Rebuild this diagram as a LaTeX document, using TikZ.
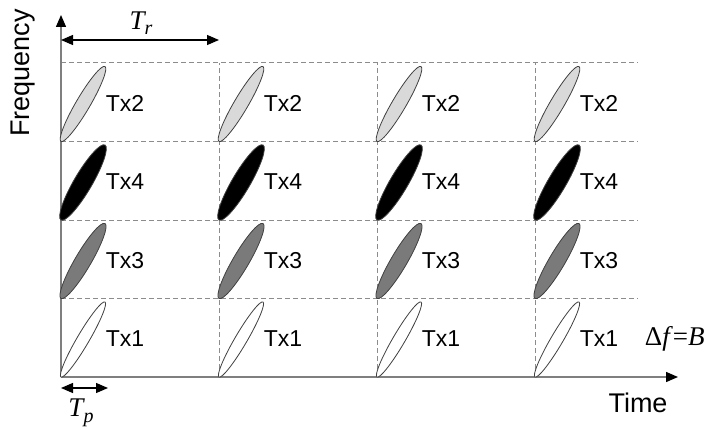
\documentclass[tikz,border=0pt]{standalone}
\usepackage{fontspec}
\setmainfont{Liberation Sans}
\newfontfamily\tmsfont{Liberation Serif}
\usepackage{tikz}
\usetikzlibrary{arrows.meta}
\definecolor{gridgray}{HTML}{8C8C8C}
\definecolor{axisgray}{HTML}{7F7F7F}
\definecolor{pulselight}{HTML}{D9D9D9}
\definecolor{pulsedark}{HTML}{7A7A7A}
\definecolor{pulseedge}{HTML}{404040}
\newcommand{\persym}[1]{{\itshape T}\raisebox{-0.45ex}{\fontsize{10}{11}\selectfont\itshape #1}}
\tikzset{
  gridline/.style={draw=gridgray, dash pattern=on 2.5pt off 1.5pt, line width=0.5pt},
  axisline/.style={draw=axisgray, line width=0.7pt,
                   -{Triangle[length=6pt,width=5pt,color=black]}},
  spanarr/.style={draw=black, line width=0.6pt,
                  {Triangle[length=6pt,width=5pt]}-{Triangle[length=6pt,width=5pt]}},
  pulse/.style={draw=pulseedge, line width=0.4pt, fill=#1},
  txlabel/.style={font=\fontsize{11.5}{13}\selectfont, inner sep=0pt},
  axislabel/.style={font=\fontsize{13.5}{16}\selectfont, inner sep=0pt},
  symlabel/.style={font=\fontsize{13.5}{16}\selectfont\tmsfont, inner sep=0pt}
}
\begin{document}
\begin{tikzpicture}[x=0.5pt, y=0.5pt]
  \useasboundingbox (-61,-52) rectangle (644,377);

  % grid of sub-bands and repetition periods
  \foreach \y in {78.5,157,235.5,314}
    \draw[gridline] (0,\y) -- (577,\y);
  \foreach \x in {158,316,474}
    \draw[gridline] (\x,0) -- (\x,314);

  % axes
  \coordinate (origin) at (0,0);
  \coordinate (tend)   at (617,0);
  \coordinate (fend)   at (0,362);
  \draw[axisline] (origin) -- (tend);
  \draw[axisline] (origin) -- (fend);

  % chirps
  \foreach \c in {0,1,2,3}
    \foreach \r/\n/\fillc/\w in {0/1/white/6, 1/3/pulsedark/8,
                                 2/4/black/9, 3/2/pulselight/7} {
      \draw[pulse=\fillc, shift={(158*\c+22,78.5*\r+37.5)}, rotate=59.6]
        (0,0) ellipse [x radius=43.5, y radius=\w];
      \node[txlabel] (tx\n-\c) at (158*\c+64,78.5*\r+38) {Tx\n};
    }

  % period markers
  \coordinate (tr-a) at (0,337);
  \coordinate (tr-b) at (158,337);
  \draw[spanarr] (tr-a) -- (tr-b);
  \node[symlabel] (trlabel) at (80,354) {\persym{r}};
  \coordinate (tp-a) at (0,-11);
  \coordinate (tp-b) at (47,-11);
  \draw[spanarr] (tp-a) -- (tp-b);
  \node[symlabel] (tplabel) at (20,-36) {\persym{p}};

  \node[symlabel, anchor=east] (bwlabel) at (644,38)
    {Δ\textit{f}=\textit{B}};
  \node[axislabel] (timelabel) at (577,-26) {Time};
  \node[axislabel, rotate=90] (freqlabel) at (-38,304) {Frequency};
\end{tikzpicture}
\end{document}
